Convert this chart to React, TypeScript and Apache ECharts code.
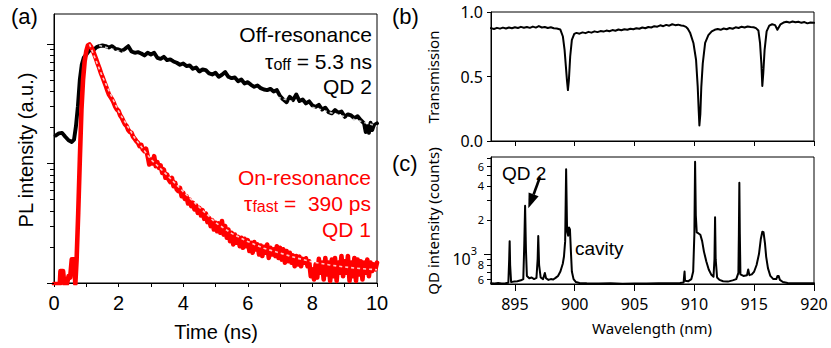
import React, { useEffect, useRef } from 'react';
import * as echarts from 'echarts';

// (a) PL decay, normalised intensity vs time (ns)
const OFF_RES: [number, number][] = [
  [0.05, 0.171], [0.15, 0.178], [0.25, 0.18], [0.35, 0.167], [0.45, 0.156], [0.55, 0.151], [0.62, 0.158],
  [0.68, 0.205], [0.74, 0.301], [0.8, 0.503], [0.86, 0.672], [0.92, 0.764], [1.0, 0.814], [1.08, 0.868],
  [1.16, 0.897], [1.24, 0.897], [1.32, 0.938], [1.4, 0.956], [1.5, 0.968], [1.6, 0.956], [1.7, 0.932],
  [1.8, 0.956], [1.9, 0.908], [2.0, 0.897], [2.1, 0.874], [2.2, 0.908], [2.3, 0.956], [2.4, 0.863],
  [2.5, 0.841], [2.6, 0.852], [2.7, 0.83], [2.8, 0.799], [2.9, 0.841], [3.0, 0.814], [3.1, 0.841],
  [3.2, 0.764], [3.3, 0.749], [3.4, 0.779], [3.5, 0.73], [3.6, 0.74], [3.7, 0.712], [3.8, 0.694],
  [3.9, 0.668], [4.0, 0.685], [4.1, 0.651], [4.2, 0.659], [4.3, 0.618], [4.4, 0.634], [4.5, 0.587],
  [4.6, 0.61], [4.7, 0.602], [4.8, 0.565], [4.9, 0.554], [5.0, 0.572], [5.1, 0.53], [5.2, 0.551],
  [5.3, 0.58], [5.4, 0.53], [5.5, 0.516], [5.6, 0.523], [5.7, 0.487], [5.8, 0.503], [5.9, 0.466],
  [6.0, 0.478], [6.1, 0.454], [6.2, 0.437], [6.3, 0.448], [6.4, 0.426], [6.5, 0.415], [6.6, 0.41],
  [6.7, 0.42], [6.8, 0.399], [6.9, 0.41], [7.0, 0.365], [7.1, 0.342], [7.2, 0.325], [7.3, 0.36],
  [7.4, 0.338], [7.5, 0.377], [7.6, 0.332], [7.7, 0.342], [7.8, 0.317], [7.9, 0.33], [8.0, 0.305],
  [8.1, 0.297], [8.2, 0.309], [8.3, 0.282], [8.4, 0.292], [8.5, 0.268], [8.6, 0.262], [8.7, 0.279],
  [8.8, 0.265], [8.9, 0.272], [9.0, 0.245], [9.1, 0.257], [9.2, 0.252], [9.3, 0.239], [9.4, 0.248],
  [9.5, 0.23], [9.6, 0.216], [9.65, 0.183], [9.7, 0.205], [9.75, 0.18], [9.8, 0.219], [9.85, 0.19],
  [9.9, 0.208], [10.0, 0.216],
];
const OFF_FIT: [number, number][] = [[1.4, 0.97], [10.0, 0.205]];

const ON_RES: [number, number][] = [
  [0.0, 0.0098], [0.1, 0.0098], [0.18, 0.0098], [0.2, 0.0126], [0.28, 0.0126], [0.32, 0.0098],
  [0.4, 0.0098], [0.45, 0.0114], [0.5, 0.0111], [0.55, 0.0158], [0.62, 0.0158], [0.66, 0.0098],
  [0.7, 0.0157], [0.75, 0.0386], [0.8, 0.108], [0.85, 0.282], [0.9, 0.503], [0.95, 0.716], [1.0, 0.868],
  [1.05, 0.968], [1.1, 0.987], [1.15, 0.944], [1.2, 0.885], [1.25, 0.814], [1.3, 0.749], [1.35, 0.685],
  [1.4, 0.63], [1.45, 0.572], [1.5, 0.53], [1.55, 0.487], [1.6, 0.448], [1.65, 0.41], [1.7, 0.377],
  [1.75, 0.36], [1.8, 0.342], [1.85, 0.321], [1.9, 0.297], [1.95, 0.282], [2.0, 0.274], [2.05, 0.252],
  [2.1, 0.2405], [2.15, 0.2256], [2.2, 0.2116], [2.25, 0.205], [2.3, 0.19], [2.35, 0.183], [2.4, 0.18],
  [2.45, 0.167], [2.5, 0.1605], [2.55, 0.1535], [2.6, 0.1487], [2.65, 0.1394], [2.7, 0.143],
  [2.75, 0.1308], [2.8, 0.1266], [2.85, 0.1325], [2.9, 0.115], [2.95, 0.098], [3.0, 0.1078],
  [3.05, 0.0999], [3.1, 0.115], [3.15, 0.0949], [3.2, 0.1025], [3.25, 0.0919], [3.3, 0.0961],
  [3.35, 0.0834], [3.4, 0.089], [3.45, 0.0758], [3.5, 0.0808], [3.55, 0.0734], [3.6, 0.0697],
  [3.65, 0.0758], [3.7, 0.0645], [3.75, 0.0688], [3.8, 0.0605], [3.85, 0.0586], [3.9, 0.0625],
  [3.95, 0.0532], [4.0, 0.0568], [4.05, 0.0506], [4.1, 0.0532], [4.15, 0.0462], [4.2, 0.0499],
  [4.25, 0.0439], [4.3, 0.0468], [4.35, 0.0412], [4.4, 0.0445], [4.45, 0.0386], [4.5, 0.0425],
  [4.55, 0.0367], [4.6, 0.0407], [4.65, 0.0344], [4.7, 0.0381], [4.75, 0.0323], [4.8, 0.0351],
  [4.85, 0.0299], [4.9, 0.0335], [4.95, 0.028], [5.0, 0.0319], [5.05, 0.0271], [5.1, 0.0315],
  [5.15, 0.0263], [5.2, 0.0329], [5.25, 0.0254], [5.3, 0.0299], [5.35, 0.0239], [5.4, 0.028],
  [5.45, 0.0224], [5.5, 0.0263], [5.55, 0.021], [5.6, 0.0254], [5.65, 0.0217], [5.7, 0.0243],
  [5.75, 0.0203], [5.8, 0.0239], [5.85, 0.0197], [5.9, 0.0234], [5.95, 0.0203], [6.0, 0.0228],
  [6.05, 0.0185], [6.1, 0.0217], [6.15, 0.0179], [6.2, 0.022], [6.25, 0.0191], [6.3, 0.021],
  [6.35, 0.0173], [6.4, 0.0206], [6.45, 0.0168], [6.5, 0.0201], [6.55, 0.0179], [6.6, 0.021],
  [6.65, 0.0162], [6.7, 0.0197], [6.75, 0.0173], [6.8, 0.0191], [6.85, 0.0168], [6.9, 0.0203],
  [6.95, 0.0162], [7.0, 0.0197], [7.05, 0.0157], [7.1, 0.0191], [7.15, 0.0148], [7.2, 0.0185],
  [7.25, 0.0152], [7.3, 0.0179], [7.35, 0.0148], [7.4, 0.017], [7.45, 0.0138], [7.5, 0.0168],
  [7.55, 0.0143], [7.6, 0.0166], [7.65, 0.0138], [7.7, 0.0159], [7.75, 0.0148], [7.8, 0.0161],
  [7.85, 0.0138], [7.9, 0.0152], [7.95, 0.0114], [8.0, 0.013], [8.05, 0.0107], [8.1, 0.0143],
  [8.15, 0.0111], [8.2, 0.0159], [8.25, 0.0122], [8.3, 0.0148], [8.35, 0.0107], [8.4, 0.0162],
  [8.45, 0.0118], [8.5, 0.0148], [8.55, 0.0104], [8.6, 0.0157], [8.65, 0.0114], [8.7, 0.0162],
  [8.75, 0.0104], [8.8, 0.0148], [8.85, 0.0122], [8.9, 0.0168], [8.95, 0.0114], [9.0, 0.0152],
  [9.05, 0.0122], [9.1, 0.0168], [9.15, 0.0104], [9.2, 0.0148], [9.25, 0.0114], [9.3, 0.0162],
  [9.35, 0.0104], [9.4, 0.0157], [9.45, 0.0118], [9.5, 0.0152], [9.55, 0.0107], [9.6, 0.0148],
  [9.65, 0.0122], [9.7, 0.0157], [9.75, 0.0114], [9.8, 0.0148], [9.85, 0.0126], [9.9, 0.0143],
  [9.95, 0.013], [10.0, 0.0148],
];
const ON_FIT: [number, number][] = [
  [1.1, 0.99], [1.5, 0.53], [2.0, 0.272], [2.5, 0.163], [3.0, 0.108], [3.5, 0.08], [4.0, 0.058],
  [4.5, 0.043], [5.0, 0.032], [5.5, 0.026], [6.0, 0.0222], [6.5, 0.0195], [7.0, 0.0178], [7.5, 0.0162],
  [8.0, 0.015], [8.5, 0.0142], [9.0, 0.0136], [9.5, 0.0132], [10.0, 0.0129],
];

// (b) transmission vs wavelength (nm)
const TRANSMISSION: [number, number][] = [
  [893.0, 0.875], [893.25, 0.868], [893.5, 0.877], [893.75, 0.871], [894.0, 0.879], [894.25, 0.872],
  [894.5, 0.88], [894.75, 0.874], [895.0, 0.882], [895.25, 0.876], [895.5, 0.885], [895.75, 0.878],
  [896.0, 0.884], [896.25, 0.877], [896.5, 0.887], [896.75, 0.879], [897.0, 0.891], [897.25, 0.88],
  [897.5, 0.884], [897.75, 0.876], [898.0, 0.882], [898.25, 0.874], [898.5, 0.872], [898.79, 0.865],
  [899.01, 0.81], [899.15, 0.706], [899.26, 0.577], [899.35, 0.47], [899.43, 0.395], [899.51, 0.47],
  [899.62, 0.655], [899.76, 0.784], [899.96, 0.83], [900.15, 0.838], [900.4, 0.832], [900.65, 0.842],
  [900.9, 0.836], [901.15, 0.846], [901.4, 0.84], [901.65, 0.85], [901.9, 0.844], [902.15, 0.852],
  [902.4, 0.848], [902.65, 0.856], [902.9, 0.851], [903.15, 0.86], [903.4, 0.855], [903.65, 0.864],
  [903.9, 0.858], [904.15, 0.866], [904.4, 0.862], [904.65, 0.87], [904.9, 0.866], [905.15, 0.874],
  [905.4, 0.87], [905.65, 0.88], [905.9, 0.874], [906.15, 0.884], [906.4, 0.88], [906.65, 0.89],
  [906.9, 0.886], [907.15, 0.897], [907.4, 0.89], [907.65, 0.9], [907.9, 0.894], [908.15, 0.905],
  [908.4, 0.898], [908.65, 0.902], [908.9, 0.896], [909.1, 0.893], [909.3, 0.885], [909.45, 0.87],
  [909.64, 0.84], [909.92, 0.76], [910.14, 0.63], [910.28, 0.42], [910.36, 0.24], [910.42, 0.12],
  [910.5, 0.21], [910.58, 0.42], [910.7, 0.6], [910.9, 0.76], [911.17, 0.82], [911.45, 0.85],
  [911.7, 0.862], [911.95, 0.868], [912.2, 0.862], [912.45, 0.872], [912.7, 0.866], [912.95, 0.876],
  [913.2, 0.87], [913.45, 0.881], [913.7, 0.876], [913.95, 0.886], [914.2, 0.88], [914.45, 0.888],
  [914.7, 0.884], [914.95, 0.882], [915.15, 0.875], [915.35, 0.857], [915.49, 0.758], [915.6, 0.6],
  [915.68, 0.426], [915.76, 0.525], [915.87, 0.706], [916.04, 0.85], [916.26, 0.894], [916.5, 0.905],
  [916.75, 0.898], [916.94, 0.862], [917.05, 0.88], [917.2, 0.905], [917.45, 0.918], [917.7, 0.925],
  [917.95, 0.918], [918.2, 0.926], [918.45, 0.92], [918.7, 0.924], [918.95, 0.916], [919.2, 0.922],
  [919.45, 0.912], [919.7, 0.918], [920.0, 0.916],
];

// (c) QD emission spectrum, counts vs wavelength (nm)
const SPECTRUM: [number, number][] = [
  [893.0, 552], [893.3, 548], [893.6, 553], [893.9, 549], [894.2, 552], [894.45, 556], [894.52, 900],
  [894.56, 1300], [894.6, 800], [894.68, 565], [894.9, 570], [895.2, 575], [895.5, 585], [895.7, 600],
  [895.78, 1200], [895.85, 2670], [895.92, 1100], [896.0, 640], [896.2, 610], [896.4, 620], [896.6, 600],
  [896.8, 615], [896.9, 900], [896.95, 1440], [897.02, 800], [897.15, 620], [897.35, 600], [897.5, 680],
  [897.6, 610], [897.8, 590], [898.0, 600], [898.2, 595], [898.4, 615], [898.6, 640], [898.8, 700],
  [899.0, 820], [899.1, 950], [899.2, 1300], [899.28, 5620], [899.36, 1600], [899.45, 1450],
  [899.52, 1720], [899.6, 1650], [899.68, 1050], [899.76, 700], [899.9, 600], [900.1, 565], [900.4, 555],
  [901.0, 550], [902.0, 548], [903.0, 550], [904.0, 547], [905.0, 549], [906.0, 548], [907.0, 551],
  [908.0, 550], [908.8, 553], [909.1, 560], [909.15, 650], [909.18, 700], [909.22, 580], [909.5, 575],
  [909.75, 600], [909.9, 700], [910.0, 1500], [910.06, 6560], [910.12, 2200], [910.2, 1550],
  [910.35, 1520], [910.5, 1480], [910.65, 1300], [910.8, 1050], [911.0, 860], [911.2, 730], [911.4, 660],
  [911.6, 630], [911.68, 900], [911.73, 2113], [911.78, 900], [911.9, 620], [912.1, 590], [912.4, 575],
  [912.8, 570], [913.2, 585], [913.5, 600], [913.68, 680], [913.72, 1500], [913.76, 4275], [913.8, 1500],
  [913.85, 660], [914.1, 640], [914.4, 650], [914.5, 730], [914.6, 650], [914.8, 660], [915.0, 700],
  [915.2, 800], [915.4, 1000], [915.55, 1350], [915.68, 1575], [915.78, 1560], [915.9, 1250],
  [916.0, 950], [916.15, 750], [916.35, 640], [916.6, 600], [916.85, 600], [916.95, 640], [917.05, 638],
  [917.15, 590], [917.4, 565], [917.8, 555], [918.3, 552], [918.8, 550], [919.4, 551], [920.0, 550],
];

const WL_TICKS = [895, 900, 905, 910, 915, 920];
const PL_TICKS = [
  0.01, 0.02, 0.03, 0.04, 0.05, 0.06, 0.07, 0.08, 0.09,
  0.1, 0.2, 0.3, 0.4, 0.5, 0.6, 0.7, 0.8, 0.9, 1,
];
const QD_TICKS = [600, 700, 800, 900, 1000, 2000, 3000, 4000, 5000, 6000, 7000];
const QD_TICK_LABELS = ['6', '', '8', '', '10^3', '2', '', '4', '', '6', ''];

const HELV = '"Liberation Sans", Arial, Helvetica, sans-serif';
const LUC = '"Noto Sans", "DejaVu Sans", sans-serif';

function isDecade(v: number) {
  const l = Math.log10(v);
  return Math.abs(l - Math.round(l)) < 1e-6;
}

export default function App() {
  const ref = useRef<HTMLDivElement>(null);

  useEffect(() => {
    if (!ref.current) return;
    const chart = echarts.init(ref.current, undefined, { renderer: 'svg' });

    const axisLineStyle = { color: '#000', width: 1 };
    const lineSeries = (data: any, idx: number, color: string, width: number, extra: any = {}) => ({
      type: 'line',
      data,
      xAxisIndex: idx,
      yAxisIndex: idx,
      showSymbol: false,
      symbol: 'none',
      silent: true,
      lineStyle: { color, width, join: 'round', cap: 'round' },
      itemStyle: { color },
      z: 3,
      ...extra,
    });
    const fitStyle = { color: 'rgba(255,255,255,0.78)', width: 1.6, type: [3, 3] };

    const option: any = {
      animation: false,
      backgroundColor: '#fff',
      grid: [
        { left: 54, top: 14, width: 323, height: 269, show: true, borderColor: '#000', borderWidth: 1, backgroundColor: 'transparent' },
        { left: 491, top: 12, width: 323, height: 129, show: true, borderColor: '#000', borderWidth: 1, backgroundColor: 'transparent' },
        { left: 491, top: 157, width: 323, height: 127, show: true, borderColor: '#000', borderWidth: 1, backgroundColor: 'transparent' },
      ],
      xAxis: [
        {
          gridIndex: 0, type: 'value', min: 0, max: 10, interval: 1,
          axisLine: { lineStyle: axisLineStyle },
          axisTick: { show: true, inside: false, length: 4, lineStyle: axisLineStyle },
          axisLabel: {
            formatter: (v: number) => (v % 2 === 0 ? String(v) : ''),
            fontFamily: HELV, fontSize: 20, color: '#000', margin: 10,
          },
          splitLine: { show: false },
        },
        {
          gridIndex: 1, type: 'value', min: 893, max: 920,
          axisLine: { lineStyle: axisLineStyle },
          axisTick: { show: true, length: 5, customValues: WL_TICKS, lineStyle: axisLineStyle },
          axisLabel: { show: false },
          splitLine: { show: false },
        },
        {
          gridIndex: 2, type: 'value', min: 893, max: 920,
          axisLine: { lineStyle: axisLineStyle },
          axisTick: { show: true, length: 7, customValues: WL_TICKS, lineStyle: axisLineStyle },
          axisLabel: { customValues: WL_TICKS, fontFamily: LUC, fontSize: 16, color: '#000', margin: 12 },
          splitLine: { show: false },
        },
      ],
      yAxis: [
        {
          gridIndex: 0, type: 'log', logBase: 10, min: 0.01, max: 1.775,
          axisLine: { show: true, lineStyle: axisLineStyle },
          axisTick: { show: false }, axisLabel: { show: false }, splitLine: { show: false },
        },
        {
          gridIndex: 1, type: 'value', min: 0, max: 1, interval: 0.5,
          axisLine: { show: true, lineStyle: axisLineStyle },
          axisTick: { show: true, length: 4, lineStyle: axisLineStyle },
          axisLabel: { formatter: (v: number) => v.toFixed(1), fontFamily: LUC, fontSize: 16, color: '#000', margin: 8 },
          splitLine: { show: false },
        },
        {
          gridIndex: 2, type: 'log', logBase: 10, min: 543, max: 7210,
          axisLine: { show: true, lineStyle: axisLineStyle },
          axisTick: { show: false }, axisLabel: { show: false }, splitLine: { show: false },
        },
      ],
      series: [
        lineSeries(OFF_RES, 0, '#000', 3.9),
        lineSeries(ON_RES, 0, '#ff0000', 4.6),
        lineSeries(OFF_FIT, 0, fitStyle.color, 1.6, { lineStyle: fitStyle, z: 4 }),
        lineSeries(ON_FIT, 0, fitStyle.color, 1.6, { lineStyle: fitStyle, z: 4 }),
        lineSeries(TRANSMISSION, 1, '#000', 2),
        lineSeries(SPECTRUM, 2, '#000', 2),
        {
          type: 'custom', xAxisIndex: 0, yAxisIndex: 0, silent: true, clip: false, z: 5,
          data: PL_TICKS.map((v) => [0, v]),
          renderItem: (params: any, api: any) => {
            const v = PL_TICKS[params.dataIndex];
            const p = api.coord([api.value(0), v]);
            const len = isDecade(v) ? 7 : 4;
            const y = Math.round(p[1]) + 0.5;
            return {
              type: 'line',
              shape: { x1: p[0] - len, y1: y, x2: p[0], y2: y },
              style: { stroke: '#000', lineWidth: 1 },
            };
          },
        },
        {
          type: 'custom', xAxisIndex: 2, yAxisIndex: 2, silent: true, clip: false, z: 5,
          data: QD_TICKS.map((v) => [893, v]),
          renderItem: (params: any, api: any) => {
            const i = params.dataIndex;
            const v = QD_TICKS[i];
            const p = api.coord([api.value(0), v]);
            const len = isDecade(v) ? 7 : 4;
            const y = Math.round(p[1]) + 0.5;
            const children: any[] = [
              { type: 'line', shape: { x1: p[0] - len, y1: y, x2: p[0], y2: y }, style: { stroke: '#000', lineWidth: 1 } },
            ];
            const lab = QD_TICK_LABELS[i];
            if (lab === '10^3') {
              children.push({
                type: 'text', x: p[0] - 14, y: p[1] + 2,
                style: {
                  text: '{b|10}{s|3}', align: 'right', verticalAlign: 'middle', fill: '#000',
                  rich: {
                    b: { fontFamily: LUC, fontSize: 16, fill: '#000', lineHeight: 22, verticalAlign: 'bottom' },
                    s: { fontFamily: LUC, fontSize: 11, fill: '#000', lineHeight: 14, verticalAlign: 'top' },
                  },
                },
              });
            } else if (lab) {
              children.push({
                type: 'text', x: p[0] - 7, y: p[1],
                style: { text: lab, align: 'right', verticalAlign: 'middle', fill: '#000', font: `11px ${LUC}` },
              });
            }
            return { type: 'group', children };
          },
        },
      ],
      graphic: [
        { type: 'text', x: 11, y: 16, style: { text: '(a)', font: `22px ${HELV}`, fill: '#000', verticalAlign: 'middle' } },
        { type: 'text', x: 392, y: 16, style: { text: '(b)', font: `22px ${HELV}`, fill: '#000', verticalAlign: 'middle' } },
        { type: 'text', x: 392, y: 163, style: { text: '(c)', font: `22px ${HELV}`, fill: '#000', verticalAlign: 'middle' } },
        {
          type: 'text', x: 26, y: 150, rotation: Math.PI / 2,
          style: { text: 'PL intensity (a.u.)', font: `20px ${HELV}`, fill: '#000', align: 'center', verticalAlign: 'middle' },
        },
        {
          type: 'text', x: 216, y: 332,
          style: { text: 'Time (ns)', font: `20px ${HELV}`, fill: '#000', align: 'center', verticalAlign: 'middle' },
        },
        {
          type: 'text', x: 433, y: 77, rotation: Math.PI / 2,
          style: { text: 'Transmission', font: `15px ${LUC}`, fill: '#000', align: 'center', verticalAlign: 'middle' },
        },
        {
          type: 'text', x: 433, y: 221, rotation: Math.PI / 2,
          style: { text: 'QD intensity (counts)', font: `15px ${LUC}`, fill: '#000', align: 'center', verticalAlign: 'middle' },
        },
        {
          type: 'text', x: 652, y: 328,
          style: { text: 'Wavelength (nm)', font: `15px ${LUC}`, fill: '#000', align: 'center', verticalAlign: 'middle' },
        },
        { type: 'text', x: 372, y: 34, style: { text: 'Off-resonance', font: `21px ${HELV}`, fill: '#000', align: 'right', verticalAlign: 'middle' } },
        {
          type: 'text', x: 372, y: 60,
          style: {
            text: '{t|τ}{s|off}{n| = 5.3 ns}', align: 'right', verticalAlign: 'middle',
            rich: {
              t: { fontFamily: HELV, fontSize: 21, fill: '#000', lineHeight: 24, verticalAlign: 'bottom' },
              s: { fontFamily: HELV, fontSize: 16, fill: '#000', lineHeight: 16, verticalAlign: 'bottom' },
              n: { fontFamily: HELV, fontSize: 21, fill: '#000', lineHeight: 24, verticalAlign: 'bottom' },
            },
          },
        },
        { type: 'text', x: 372, y: 86, style: { text: 'QD 2', font: `21px ${HELV}`, fill: '#000', align: 'right', verticalAlign: 'middle' } },
        { type: 'text', x: 371, y: 177, style: { text: 'On-resonance', font: `21px ${HELV}`, fill: '#ff0000', align: 'right', verticalAlign: 'middle' } },
        {
          type: 'text', x: 371, y: 202,
          style: {
            text: '{t|τ}{s|fast}{n| =  390 ps}', align: 'right', verticalAlign: 'middle',
            rich: {
              t: { fontFamily: HELV, fontSize: 21, fill: '#ff0000', lineHeight: 24, verticalAlign: 'bottom' },
              s: { fontFamily: HELV, fontSize: 16, fill: '#ff0000', lineHeight: 16, verticalAlign: 'bottom' },
              n: { fontFamily: HELV, fontSize: 21, fill: '#ff0000', lineHeight: 24, verticalAlign: 'bottom' },
            },
          },
        },
        { type: 'text', x: 371, y: 229, style: { text: 'QD 1', font: `21px ${HELV}`, fill: '#ff0000', align: 'right', verticalAlign: 'middle' } },
        { type: 'text', x: 502, y: 173, style: { text: 'QD 2', font: `19px ${HELV}`, fill: '#000', verticalAlign: 'middle' } },
        { type: 'text', x: 575, y: 248, style: { text: 'cavity', font: `19px ${HELV}`, fill: '#000', verticalAlign: 'middle' } },
        {
          type: 'line',
          shape: { x1: 540, y1: 177, x2: 533.6, y2: 194.5 },
          style: { stroke: '#000', lineWidth: 2.6 },
        },
        {
          type: 'polygon',
          shape: { points: [[528.3, 208.3], [538.6, 196.3], [528.6, 192.6]] },
          style: { fill: '#000' },
        },
      ],
    };

    chart.setOption(option);
    return () => chart.dispose();
  }, []);

  return <div ref={ref} style={{ position: 'absolute', left: 0, top: 0, width: 831, height: 348 }} />;
}
